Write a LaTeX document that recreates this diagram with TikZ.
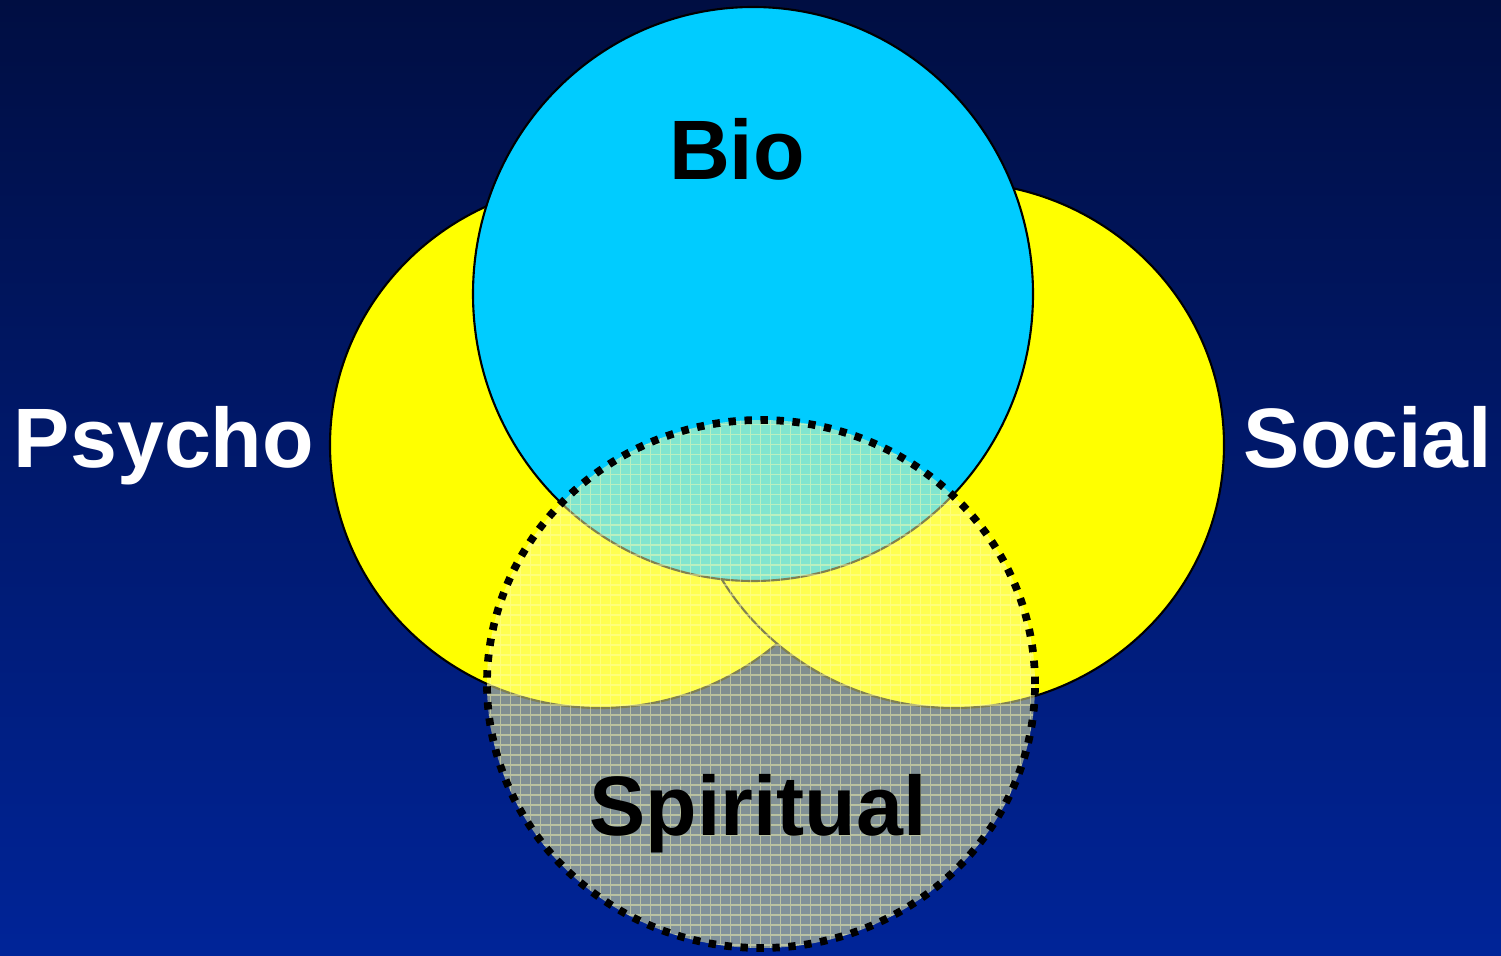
\documentclass[tikz,border=0pt]{standalone}
\usepackage{fontspec}
\setmainfont{Liberation Sans}
\definecolor{bgtop}{RGB}{0,14,66}
\definecolor{bgbot}{RGB}{0,36,152}
\definecolor{venyellow}{RGB}{255,255,0}
\definecolor{vencyan}{RGB}{0,204,255}
\definecolor{venveil}{RGB}{255,255,160}
\definecolor{vengrid}{RGB}{255,255,175}
\begin{document}
\begin{tikzpicture}[ring/.style={draw=black, line width=0.6pt},
    word/.style={font=\fontsize{24}{28}\selectfont\bfseries, anchor=base}]
	\shade[top color=bgtop, bottom color=bgbot] (0,0) rectangle (15.01,9.55);
	\useasboundingbox (0,0) rectangle (15.01,9.55);
	% yellow circles, the right one lies above the left one
	\foreach \cx/\name in {6.00/psy, 9.54/soc}{
		\coordinate (\name) at (\cx,5.10);
		\draw[ring, fill=venyellow] (\name) ellipse[x radius=2.70, y radius=2.63];}
	\coordinate (bio) at (7.53,6.61);
	\draw[ring, fill=vencyan] (bio) ellipse[x radius=2.80, y radius=2.87];
	% spiritual veil with its grid
	\coordinate (spi) at (7.61,2.71);
	\fill[venveil, fill opacity=0.5] (spi) ellipse[x radius=2.74, y radius=2.64];
	\begin{scope}
		\clip (spi) ellipse[x radius=2.74, y radius=2.64];
		\draw[vengrid, opacity=0.45, line width=0.3pt, step=0.1] (4.8,0) grid (10.4,5.4);
	\end{scope}
	\draw[line width=2.2pt, dash pattern=on 2.1pt off 2.45pt] (spi) ellipse[x radius=2.74, y radius=2.64];
			\node[word] (biotxt) at (7.37,7.75) {Bio};
			\node[word, white] (psytxt) at (1.64,4.87) {Psycho};
			\node[word, white] (soctxt) at (13.68,4.87) {Social};
			\node[word] (spitxt) at (7.58,1.20) {Spiritual};

\end{tikzpicture}
\end{document}
